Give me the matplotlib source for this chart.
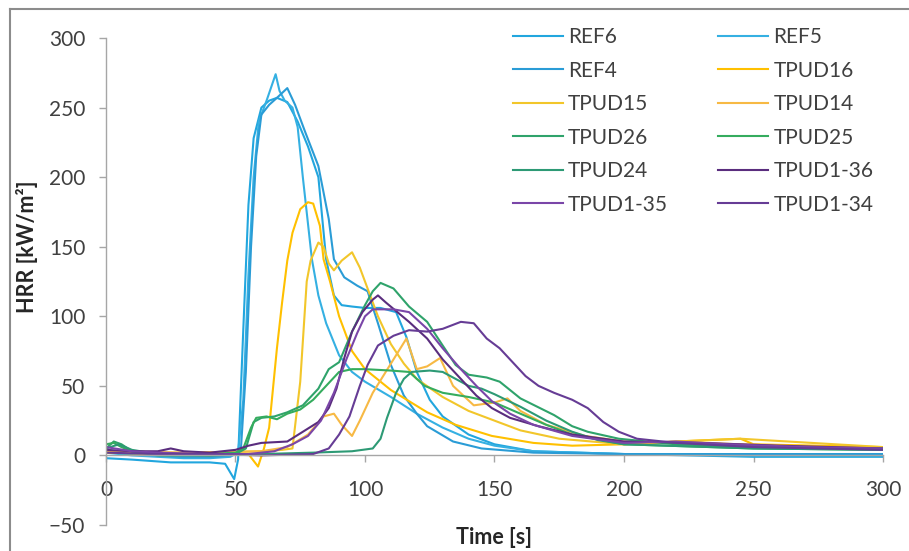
import matplotlib
matplotlib.use("Agg")
import matplotlib.pyplot as plt
from matplotlib.lines import Line2D

plt.rcParams['font.family'] = ['Lato', 'DejaVu Sans']

# ---------------- data ----------------
ref6_t = [0, 10, 25, 40, 46, 49.5, 51, 53, 55, 57, 60, 63, 66, 70, 74, 78, 82, 85, 88, 91, 95, 100, 106, 112, 116, 120, 125, 130, 140, 150, 165, 200, 250, 300]
ref6_v = [-2, -3, -5, -5, -6, -17, -3, 90, 180, 228, 250, 255, 257, 254, 240, 222, 200, 141, 115, 108, 107, 106, 106, 103, 85, 60, 40, 28, 15, 8, 3, 1, -1, -1]

ref5_t = [0, 10, 20, 30, 40, 48, 51, 53, 55, 57, 59, 62, 65.5, 67, 69, 72, 74, 76, 79.5, 82, 85, 90, 95, 100, 110, 120, 130, 140, 150, 165, 200, 250, 300]
ref5_v = [2, 0, -1, -2, -2, -1, 2, 40, 130, 200, 240, 255, 274, 262, 255, 250, 236, 200, 141, 115, 95, 72, 60, 53, 42, 30, 20, 12, 7, 3, 1, 0, 0]

ref4_t = [0, 10, 20, 30, 40, 48, 52, 54, 56, 58, 60, 63, 66, 70, 73, 77, 82, 86, 88, 92, 97, 101, 105, 110, 115, 120, 124, 134, 145, 165, 200, 250, 300]
ref4_v = [3, 1, 0, -1, -1, 0, 2, 60, 150, 215, 245, 252, 257, 264, 252, 232, 208, 170, 141, 128, 122, 118, 95, 65, 43, 30, 21, 10, 5, 2, 1, 1, 1]

tpud16_t = [0, 20, 40, 55, 58.7, 61, 63, 66, 68, 70, 72, 75, 78, 80, 82.6, 84, 86.5, 90, 95, 100, 110, 124, 135, 149, 165, 180, 200, 220, 245, 250, 300]
tpud16_v = [2, 1, 2, 1, -8, 5, 20, 77, 110, 140, 160, 177, 182, 181, 165, 141, 125, 100, 75, 62, 47, 31, 22, 14, 9, 7, 8, 10, 12, 8, 6]

tpud15_t = [0, 20, 40, 60, 68, 72, 75, 77.5, 79, 82, 84, 86, 88, 91, 95, 98, 101, 105, 110, 115, 120, 130, 140, 150, 160, 175, 200, 220, 245, 300]
tpud15_v = [3, 2, 2, 3, 4, 5, 53, 125, 140, 153, 150, 138, 133, 140, 146, 135, 120, 100, 80, 66, 55, 42, 32, 25, 18, 12, 8, 10, 12, 6]

tpud14_t = [0, 30, 60, 70, 78, 84, 88, 91, 95, 98, 103, 108, 113, 116, 120, 124, 129, 134, 142, 150, 155, 160, 170, 185, 200, 230, 260, 300]
tpud14_v = [3, 2, 3, 6, 15, 28, 30, 22, 14, 25, 45, 60, 75, 84, 62, 64, 70, 50, 36, 38, 41, 32, 22, 14, 10, 9, 7, 5]

tpud26_t = [0, 3, 6, 10, 20, 40, 50, 54, 57, 60, 65, 70, 76, 82, 86, 90, 95, 100, 103, 106, 111, 117, 124, 130, 135, 140, 147, 152, 160, 173, 180, 186, 198, 220, 250, 300]
tpud26_v = [5, 10, 8, 3, 0, 0, 1, 5, 24, 27, 28, 31, 36, 48, 62, 67, 89, 108, 118, 124, 120, 107, 96, 79, 65, 58, 56, 53, 41, 29, 21, 17, 12, 8, 6, 5]

tpud25_t = [0, 3, 6, 10, 20, 40, 50, 53, 56, 58, 62, 66, 70, 75, 80, 85, 90, 95, 100, 110, 117, 120, 123, 130, 140, 150, 160, 170, 180, 200, 250, 300]
tpud25_v = [8, 9, 6, 3, 1, 1, 2, 5, 20, 27, 28, 26, 30, 33, 40, 50, 60, 62, 62, 61, 60, 55, 50, 45, 42, 38, 30, 22, 15, 8, 5, 4]

tpud24_t = [0, 5, 10, 20, 40, 60, 80, 95, 103, 106, 108.5, 112, 115, 118, 125, 130, 135, 140, 145, 150, 160, 170, 180, 190, 200, 250, 300]
tpud24_v = [5, 8, 4, 1, 0, 1, 2, 3, 5, 12, 27, 45, 55, 60, 61, 60, 55, 50, 48, 44, 35, 25, 17, 11, 8, 5, 4]

tpud1_36_t = [0, 10, 20, 25, 30, 40, 50, 55, 60, 70, 76, 82, 86, 89, 92, 95, 99, 103, 105, 108, 117, 124, 130, 137, 143, 149, 156, 167, 180, 200, 230, 260, 300]
tpud1_36_v = [4, 3, 3, 5, 3, 2, 4, 7, 9, 10, 17, 24, 34, 48, 70, 89, 103, 112, 115, 110, 96, 84, 69, 55, 43, 34, 27, 21, 15, 10, 9, 7, 5]

tpud1_35_t = [0, 10, 20, 40, 55, 65, 72, 78, 83, 88, 93, 97, 100, 103, 111, 117, 124, 130, 137, 143, 149, 156, 165, 180, 200, 220, 240, 270, 300]
tpud1_35_v = [6, 3, 2, 1, 1, 3, 8, 14, 25, 45, 70, 88, 100, 105, 105, 103, 91, 77, 62, 50, 39, 30, 22, 14, 9, 10, 8, 6, 5]

tpud1_34_t = [0, 20, 40, 60, 80, 86, 90, 94, 98, 101, 105, 111, 117, 124, 130, 137, 142, 147, 152, 157, 162, 167, 173, 180, 186, 192, 198, 205, 220, 250, 300]
tpud1_34_v = [2, 1, 1, 0, 1, 5, 15, 28, 50, 65, 79, 86, 90, 89, 91, 96, 95, 84, 77, 67, 57, 50, 45, 40, 34, 24, 17, 12, 9, 6, 4]

labels = ['REF6', 'REF5', 'REF4', 'TPUD16', 'TPUD15', 'TPUD14',
          'TPUD26', 'TPUD25', 'TPUD24', 'TPUD1-36', 'TPUD1-35', 'TPUD1-34']
colors = ['#22A6DE', '#35B0E2', '#2A9CD6', '#FFC000', '#F2C62A', '#F7B944',
          '#2FA36B', '#35AC5E', '#2D9A75', '#5A2D7E', '#7A46A8', '#663C95']
series_t = [ref6_t, ref5_t, ref4_t, tpud16_t, tpud15_t, tpud14_t,
            tpud26_t, tpud25_t, tpud24_t, tpud1_36_t, tpud1_35_t, tpud1_34_t]
series_v = [ref6_v, ref5_v, ref4_v, tpud16_v, tpud15_v, tpud14_v,
            tpud26_v, tpud25_v, tpud24_v, tpud1_36_v, tpud1_35_v, tpud1_34_v]

# ---------------- figure ----------------
fig = plt.figure(figsize=(9.09, 5.51), dpi=100)
ax = fig.add_axes([0.1166, 0.0472, 0.8548, 0.8838])

handles = {}
for t, v, lab, c in zip(series_t, series_v, labels, colors):
    ln, = ax.plot(t, v, color=c, lw=1.5, label=lab, solid_joinstyle='round')
    handles[lab] = ln

ax.set_xlim(0, 300)
ax.set_ylim(-50, 300)
ax.set_xticks([0, 50, 100, 150, 200, 250, 300])
ax.set_yticks([-50, 0, 50, 100, 150, 200, 250, 300])

axis_col = '#A6A6A6'
for s in ['top', 'right']:
    ax.spines[s].set_visible(False)
ax.spines['left'].set_color(axis_col)
ax.spines['bottom'].set_color(axis_col)
ax.spines['bottom'].set_position(('data', 0))
ax.spines['left'].set_linewidth(1.0)
ax.spines['bottom'].set_linewidth(1.0)

ax.tick_params(axis='both', direction='out', length=5, width=1.0,
               color=axis_col, labelsize=15, labelcolor='#404040')
ax.tick_params(axis='x', pad=13)
ax.tick_params(axis='y', pad=10)

ax.set_ylabel('HRR [kW/m²]', fontsize=15.5, fontweight='bold', color='#262626')
ax.yaxis.set_label_coords(-0.088, 0.571)
ax.set_xlabel('Time [s]', fontsize=15.5, fontweight='bold', color='#262626')
ax.xaxis.set_label_coords(0.5, -0.005)

# legend in row-major order (as in the reference)
col1 = ['REF6', 'REF4', 'TPUD15', 'TPUD26', 'TPUD24', 'TPUD1-35']
col2 = ['REF5', 'TPUD16', 'TPUD14', 'TPUD25', 'TPUD1-36', 'TPUD1-34']
order = col1 + col2
leg = ax.legend([handles[k] for k in order], order, ncol=2, frameon=False,
                loc='upper left', bbox_to_anchor=(513 / 909, 1 - 27 / 551),
                bbox_transform=fig.transFigure, fontsize=15,
                handlelength=2.4, handletextpad=0.25, labelspacing=0.65,
                columnspacing=2.4, borderpad=0, borderaxespad=0)
for txt in leg.get_texts():
    txt.set_color('#404040')

# chart-area frame (left and top edges visible in the reference)
fig.add_artist(Line2D([10 / 909, 10 / 909], [1 - 9 / 551, 0], transform=fig.transFigure,
                      color='#8C8C8C', lw=1.5))
fig.add_artist(Line2D([10 / 909, 1], [1 - 9 / 551, 1 - 9 / 551], transform=fig.transFigure,
                      color='#8C8C8C', lw=1.5))

fig.savefig('out.png', dpi=100, facecolor='white')
